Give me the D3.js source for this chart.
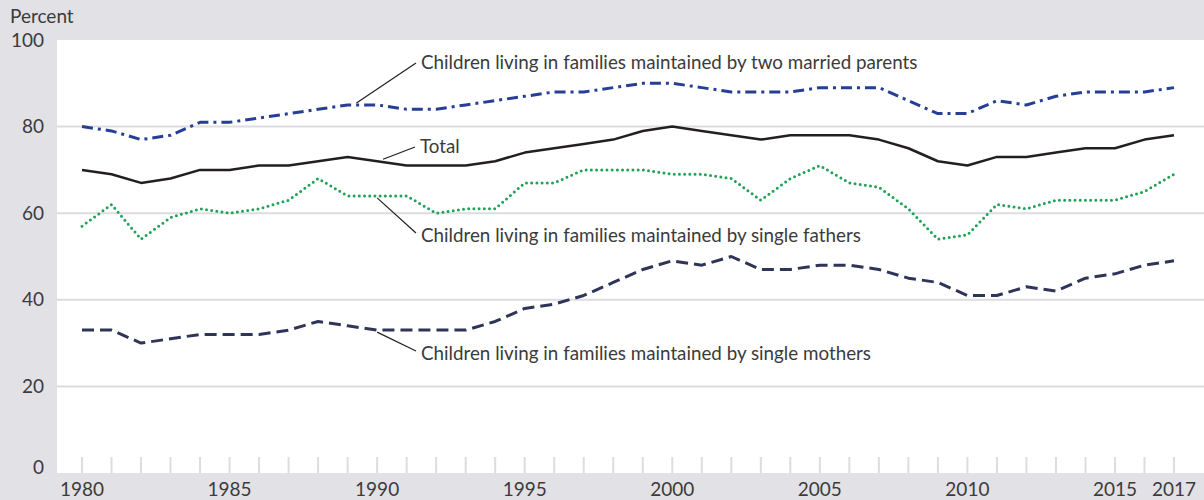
<!DOCTYPE html>
<html>
<head>
<meta charset="utf-8">
<script src="https://cdn.jsdelivr.net/npm/d3@7"></script>
<style>
  body { margin: 0; background: #e2e1e6; }
  svg { display: block; font-family: Lato, "DejaVu Sans", sans-serif; }
  .lbl { fill: #3b3b3b; font-size: 19px; }
  .note { fill: #3b3b3b; font-size: 18.8px; }
</style>
</head>
<body>
<div id="chart"></div>
<script>
// data
var years = d3.range(1980, 2018);
var married = [80, 79, 77, 78, 81, 81, 82, 83, 84, 85, 85, 84, 84, 85, 86, 87, 88, 88, 89, 90,
  90, 89, 88, 88, 88, 89, 89, 89, 86, 83, 83, 86, 85, 87, 88, 88, 88, 89];
var total = [70, 69, 67, 68, 70, 70, 71, 71, 72, 73, 72, 71, 71, 71, 72, 74, 75, 76, 77, 79,
  80, 79, 78, 77, 78, 78, 78, 77, 75, 72, 71, 73, 73, 74, 75, 75, 77, 78];
var fathers = [57, 62, 54, 59, 61, 60, 61, 63, 68, 64, 64, 64, 60, 61, 61, 67, 67, 70, 70, 70,
  69, 69, 68, 63, 68, 71, 67, 66, 61, 54, 55, 62, 61, 63, 63, 63, 65, 69];
var mothers = [33, 33, 30, 31, 32, 32, 32, 33, 35, 34, 33, 33, 33, 33, 35, 38, 39, 41, 44, 47,
  49, 48, 50, 47, 47, 48, 48, 47, 45, 44, 41, 41, 43, 42, 45, 46, 48, 49];
var yTicks = [0, 20, 40, 60, 80, 100];
var xTickLabels = [1980, 1985, 1990, 1995, 2000, 2005, 2010, 2015, 2017];

var svgWidth = 1204, svgHeight = 500;
var plot = { left: 57, right: 1204, top: 40, bottom: 473 };

var svg = d3.select("#chart").append("svg")
  .attr("width", svgWidth)
  .attr("height", svgHeight);

var x = d3.scaleLinear().domain([1980, 2017]).range([82, 1174]);
var y = d3.scaleLinear().domain([0, 100]).range([plot.bottom, plot.top]);

// white plot area
svg.append("rect")
  .attr("x", plot.left).attr("y", plot.top)
  .attr("width", plot.right - plot.left).attr("height", plot.bottom - plot.top)
  .attr("fill", "#fff");

// gridlines
svg.append("g").selectAll("line")
  .data(yTicks.filter(d => d > 0 && d < 100))
  .enter().append("line")
  .attr("x1", plot.left).attr("x2", plot.right)
  .attr("y1", d => y(d)).attr("y2", d => y(d))
  .attr("stroke", "#dddce1").attr("stroke-width", 2);

// year ticks
svg.append("g").selectAll("line")
  .data(years)
  .enter().append("line")
  .attr("x1", d => x(d)).attr("x2", d => x(d))
  .attr("y1", plot.bottom - 16).attr("y2", plot.bottom)
  .attr("stroke", "#dddce1").attr("stroke-width", 2);

// axis labels
svg.append("g").selectAll("text")
  .data(yTicks)
  .enter().append("text")
  .attr("class", "lbl")
  .attr("x", 44).attr("y", d => d === 0 ? y(d) - 6 : y(d))
  .attr("dy", "0.35em")
  .attr("text-anchor", "end")
  .text(d => d);

svg.append("text").attr("class", "lbl")
  .attr("x", 10).attr("y", 16).attr("dy", "0.35em")
  .text("Percent");

svg.append("g").selectAll("text")
  .data(xTickLabels)
  .enter().append("text")
  .attr("class", "lbl")
  .attr("x", d => x(d)).attr("y", 489)
  .attr("dy", "0.35em")
  .attr("text-anchor", "middle")
  .text(d => d);

// lines
var line = d3.line().x((d, i) => x(years[i])).y(d => y(d));

var series = [
  { values: mothers, color: "#2f3559", width: 3, dash: "12,6", cap: "butt" },
  { values: fathers, color: "#1fa257", width: 3, dash: "0,5.2", cap: "round" },
  { values: total, color: "#231f20", width: 2.5, dash: null, cap: "butt" },
  { values: married, color: "#263e96", width: 3, dash: "11,5,3,5", cap: "butt" }
];

svg.append("g").selectAll("path")
  .data(series)
  .enter().append("path")
  .attr("d", d => line(d.values))
  .attr("fill", "none")
  .attr("stroke", d => d.color)
  .attr("stroke-width", d => d.width)
  .attr("stroke-dasharray", d => d.dash)
  .attr("stroke-linecap", d => d.cap)
  .attr("stroke-linejoin", "round");

// annotations with leader lines
var notes = [
  { text: "Children living in families maintained by two married parents", year: 1989.3, value: married[9], tx: 421, ty: 62 },
  { text: "Total", year: 1990.2, value: total[10], tx: 420, ty: 146 },
  { text: "Children living in families maintained by single fathers", year: 1990, value: fathers[10], tx: 421, ty: 235 },
  { text: "Children living in families maintained by single mothers", year: 1990, value: mothers[10], tx: 421, ty: 353 }
];

var noteG = svg.append("g");
noteG.selectAll("line")
  .data(notes)
  .enter().append("line")
  .attr("x1", d => x(d.year)).attr("y1", d => y(d.value) + (d.ty < y(d.value) ? -2 : 2))
  .attr("x2", d => d.tx - 5).attr("y2", d => d.ty + (d.ty < y(d.value) ? 1 : -2))
  .attr("stroke", "#231f20").attr("stroke-width", 1.2);

noteG.selectAll("text")
  .data(notes)
  .enter().append("text")
  .attr("class", "note")
  .attr("x", d => d.tx).attr("y", d => d.ty)
  .attr("dy", "0.35em")
  .text(d => d.text);
</script>
</body>
</html>
